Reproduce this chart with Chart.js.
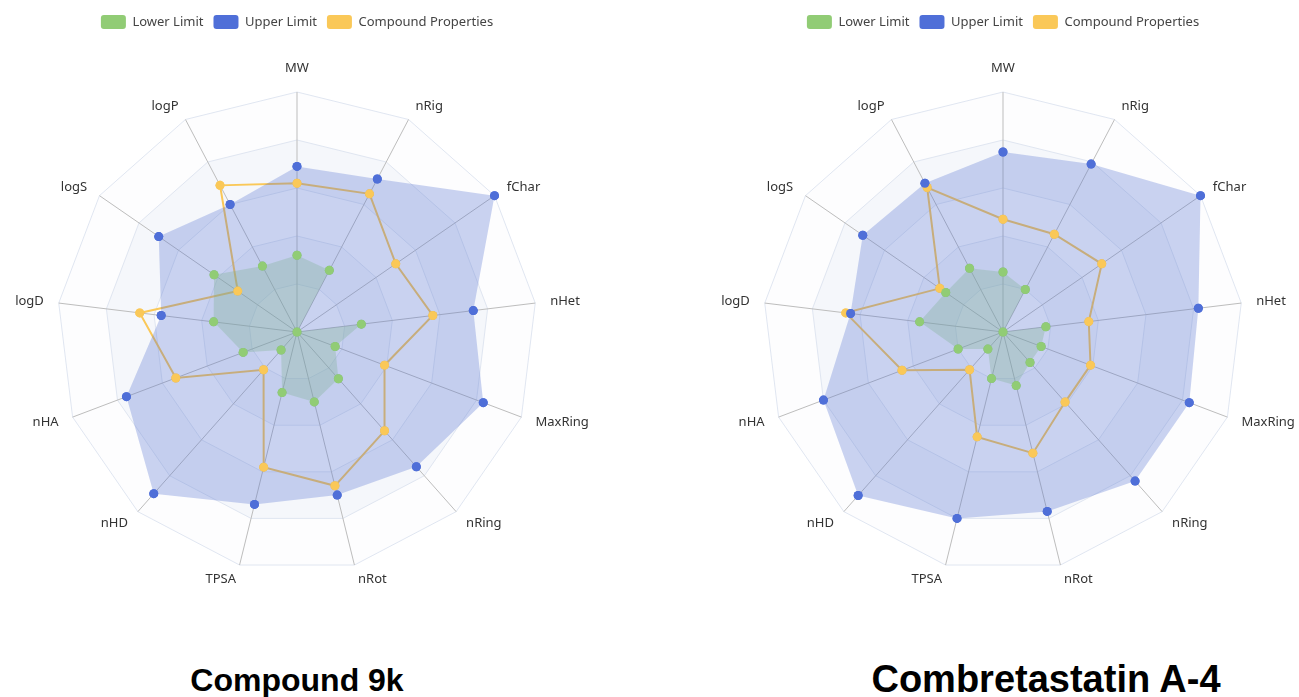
<!DOCTYPE html>
<html>
<head>
<meta charset="utf-8">
<script src="https://cdn.jsdelivr.net/npm/chart.js@4.4.1/dist/chart.umd.min.js"></script>
<style>
  html, body { margin: 0; padding: 0; background: #ffffff; }
  body { width: 1299px; height: 697px; overflow: hidden; position: relative; }
  canvas { position: absolute; top: 0; }
  #c1 { left: 0px; }
  #c2 { left: 706px; }
  .title { position: absolute; font-family: "Liberation Sans", Arial, sans-serif; font-weight: bold; color: #000;
           white-space: nowrap; transform: translateX(-50%); line-height: 36px; }
  #t1 { left: 297px; top: 662px; font-size: 32px; }
  #t2 { left: 1046px; top: 661px; font-size: 38px; }
</style>
</head>
<body>
<canvas id="c1" width="594" height="640" style="width:594px;height:640px"></canvas>
<canvas id="c2" width="593" height="640" style="width:593px;height:640px"></canvas>
<div class="title" id="t1">Compound 9k</div>
<div class="title" id="t2">Combretastatin A-4</div>
<script>
// ---- data (normalized score per indicator, 0–100) ----
const indicators = ['MW', 'nRig', 'fChar', 'nHet', 'MaxRing', 'nRing', 'nRot', 'TPSA', 'nHD', 'nHA', 'logD', 'logS', 'logP'];
const seriesNames = ['Lower Limit', 'Upper Limit', 'Compound Properties'];

const lower9k    = [32, 29, 0, 27, 17, 26, 30, 26, 10, 24, 35, 42, 31];
const upper9k    = [69, 72, 100, 74, 83, 75, 70, 74, 90, 76, 57, 70, 60];
const props9k    = [62, 65, 50, 57, 39, 55, 66, 58, 21, 54, 66, 30, 69];

const lowerCA4   = [25, 20, 0, 18, 17, 17, 23, 20, 9.5, 20, 35, 29, 30];
const upperCA4   = [75, 79, 100, 82, 83, 83, 77, 80, 91, 80, 64, 71, 70];
const propsCA4   = [47, 46, 50, 36, 39, 39, 52, 45, 21, 45, 66, 32, 68];

// ---- styles ----
const solidColors = ['#91cc75', '#4f6fd8', '#fac858'];
const fillColors  = ['rgba(145,204,117,0.32)', 'rgba(84,112,210,0.30)', 'rgba(0,0,0,0)'];
const drawOrder   = [2, 1, 3];   // compound drawn first, upper-limit area last
const bandColors  = ['#fdfdfe', '#f5f7fb'];

const bandPlugin = {
  id: 'bands',
  beforeDraw(chart) {
    const s = chart.scales.r, ctx = chart.ctx, n = chart.data.labels.length;
    const vals = s.ticks.map(t => t.value).filter(v => v > s.min);
    ctx.save();
    for (let k = vals.length - 1; k >= 0; k--) {
      const d = s.getDistanceFromCenterForValue(vals[k]);
      ctx.beginPath();
      for (let i = 0; i < n; i++) {
        const p = s.getPointPosition(i, d);
        if (i) ctx.lineTo(p.x, p.y); else ctx.moveTo(p.x, p.y);
      }
      ctx.closePath();
      ctx.fillStyle = bandColors[k % 2];
      ctx.fill();
    }
    ctx.restore();
  }
};

// redraw the point markers above every area
const pointsOnTop = {
  id: 'pointsOnTop',
  afterDatasetsDraw(chart) {
    const ctx = chart.ctx;
    [2, 0, 1].forEach(di => {
      const meta = chart.getDatasetMeta(di);
      meta.data.forEach(pt => pt.draw(ctx, chart.chartArea));
    });
  }
};

const namePlugin = {
  id: 'axisNames',
  afterDatasetsDraw(chart) {
    const s = chart.scales.r, ctx = chart.ctx;
    ctx.save();
    ctx.font = '13px "Noto Sans", sans-serif';
    ctx.fillStyle = '#333333';
    chart.data.labels.forEach((lab, i) => {
      const p = s.getPointPosition(i, s.drawingArea + 15);
      const dx = p.x - s.xCenter;
      if (Math.abs(dx) < 1) {
        ctx.textAlign = 'center';
        ctx.textBaseline = p.y < s.yCenter ? 'bottom' : 'top';
        ctx.fillText(lab, p.x, p.y - 2);
      } else {
        ctx.textAlign = dx > 0 ? 'left' : 'right';
        ctx.textBaseline = 'middle';
        ctx.fillText(lab, p.x, p.y);
      }
    });
    ctx.restore();
  }
};

function makeChart(id, lower, upper, props, padRight) {
  const sets = [lower, upper, props];
  return new Chart(document.getElementById(id), {
    type: 'radar',
    data: {
      labels: indicators,
      datasets: sets.map((d, i) => ({
        label: seriesNames[i],
        data: d,
        order: drawOrder[i],
        fill: i < 2,
        backgroundColor: fillColors[i],
        borderColor: i === 2 ? '#fac858' : 'rgba(0,0,0,0)',
        borderWidth: i === 2 ? 2 : 0,
        pointRadius: 4.5,
        pointBorderWidth: 0,
        pointBackgroundColor: solidColors[i],
        pointBorderColor: solidColors[i],
        pointHoverRadius: 4.5
      }))
    },
    options: {
      responsive: false,
      animation: false,
      events: [],
      layout: { padding: { top: 5, left: 57, right: padRight, bottom: 15 } },
      plugins: {
        tooltip: { enabled: false },
        legend: {
          position: 'top',
          labels: {
            boxWidth: 25,
            boxHeight: 14,
            padding: 10,
            useBorderRadius: true,
            borderRadius: 3,
            color: '#444444',
            font: { family: '"Noto Sans", sans-serif', size: 13 },
            sort: (a, b) => a.datasetIndex - b.datasetIndex,
            generateLabels(chart) {
              const items = Chart.defaults.plugins.legend.labels.generateLabels(chart);
              items.forEach(it => {
                it.fillStyle = solidColors[it.datasetIndex];
                it.strokeStyle = solidColors[it.datasetIndex];
                it.lineWidth = 0;
              });
              return items;
            }
          }
        }
      },
      scales: {
        r: {
          min: 0,
          max: 100,
          ticks: { display: false, stepSize: 20 },
          grid: { circular: false, color: '#e0e6f1', lineWidth: 1 },
          angleLines: { color: '#bdbdbd', lineWidth: 1 },
          pointLabels: { display: false }
        }
      }
    },
    plugins: [bandPlugin, pointsOnTop, namePlugin]
  });
}

makeChart('c1', lower9k, upper9k, props9k, 57);
makeChart('c2', lowerCA4, upperCA4, propsCA4, 56);
</script>
</body>
</html>
